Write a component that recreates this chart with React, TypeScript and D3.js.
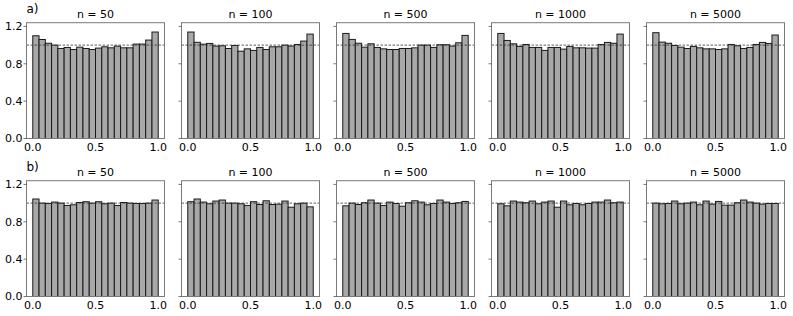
import React, { useEffect, useRef } from "react";
import * as d3 from "d3";

// sample sizes shown as panel titles
const sizes = ["50", "100", "500", "1000", "5000"];
const rowLabels = ["a)", "b)"];
const yTicks = [0.0, 0.4, 0.8, 1.2];
const xTicks = [0.0, 0.5, 1.0];
const binWidth = 0.05;

// row a) normalised histogram heights, 20 bins over [0, 1]
const a50 = [1.10, 1.06, 1.02, 1.0, 0.964, 0.975, 0.953, 0.978, 0.964, 0.953, 0.968, 0.982, 0.971, 0.989, 0.971, 0.971, 1.011, 1.011, 1.054, 1.14];
const a100 = [1.14, 1.03, 1.01, 1.018, 0.99, 0.993, 0.964, 0.996, 0.935, 0.96, 0.943, 0.975, 0.953, 0.982, 0.982, 1.0, 0.99, 1.007, 1.043, 1.118];
const a500 = [1.125, 1.061, 1.02, 0.978, 1.014, 0.975, 0.96, 0.953, 0.953, 0.964, 0.964, 0.971, 1.0, 1.0, 0.975, 1.004, 1.004, 0.99, 1.025, 1.104];
const a1000 = [1.125, 1.05, 1.014, 0.986, 1.007, 0.975, 0.975, 0.943, 0.975, 0.975, 0.957, 0.986, 0.971, 0.971, 0.968, 0.968, 1.007, 1.029, 1.02, 1.118];
const a5000 = [1.133, 1.032, 1.02, 0.996, 0.978, 0.964, 0.986, 0.971, 0.96, 0.96, 0.953, 0.96, 1.007, 0.993, 0.964, 0.975, 1.007, 1.029, 1.018, 1.108];

// row b)
const b50 = [1.044, 1.0, 0.996, 1.011, 1.0, 0.975, 0.982, 1.007, 1.015, 1.0, 1.015, 0.993, 1.0, 0.975, 1.007, 1.0, 0.996, 0.996, 1.0, 1.033];
const b100 = [1.015, 1.044, 1.011, 0.993, 1.022, 1.033, 1.0, 1.0, 0.993, 0.975, 1.015, 0.985, 1.025, 0.985, 0.989, 1.022, 0.956, 0.993, 1.0, 0.96];
const b500 = [0.971, 1.0, 0.985, 1.004, 1.033, 1.0, 0.975, 1.011, 0.996, 0.967, 1.004, 1.025, 1.011, 0.982, 0.996, 1.033, 1.011, 0.996, 1.004, 1.018];
const b1000 = [0.993, 0.971, 1.022, 1.011, 1.004, 1.022, 0.993, 1.011, 1.022, 0.956, 1.022, 0.982, 0.996, 0.982, 0.996, 1.011, 1.011, 1.033, 1.004, 1.011];
const b5000 = [1.0, 0.993, 0.996, 1.022, 0.993, 1.0, 1.011, 0.982, 1.022, 0.989, 1.018, 0.978, 0.978, 1.004, 1.033, 1.011, 1.0, 0.989, 0.996, 0.996];

const rows = [
    [a50, a100, a500, a1000, a5000],
    [b50, b100, b500, b1000, b5000]
];

const width = 793;
const height = 316;
const panelLeft = 26.5;
const panelStep = 155;
const panelW = 138;
const rowTops = [22.7, 180.7];
const panelH = 115.8;
const font = "DejaVu Sans, sans-serif";

export default function App() {
    const ref = useRef<SVGSVGElement | null>(null);

    useEffect(() => {
        const svg = d3.select(ref.current);
        svg.selectAll("*").remove();

        const x = d3.scaleLinear().domain([-0.05, 1.05]).range([0, panelW]);
        const y = d3.scaleLinear().domain([0, 1.24]).range([panelH, 0]);

        rows.forEach((row, r) => {
            svg.append("text")
                .attr("x", panelLeft)
                .attr("y", rowTops[r] - 9.5)
                .attr("font-family", font)
                .attr("font-size", 12)
                .attr("fill", "#000")
                .text(rowLabels[r]);

            row.forEach((values, c) => {
                const g = svg.append("g")
                    .attr("transform", "translate(" + (panelLeft + c * panelStep) + "," + rowTops[r] + ")");

                g.selectAll("rect.bar")
                    .data(values)
                    .enter()
                    .append("rect")
                    .attr("class", "bar")
                    .attr("x", (d, i) => x(i * binWidth))
                    .attr("width", x(binWidth) - x(0))
                    .attr("y", d => y(d))
                    .attr("height", d => y(0) - y(d))
                    .attr("fill", "#a8a8a8")
                    .attr("stroke", "#1a1a1a")
                    .attr("stroke-width", 1);

                g.append("line")
                    .attr("x1", 0)
                    .attr("x2", panelW)
                    .attr("y1", y(1))
                    .attr("y2", y(1))
                    .attr("stroke", "#333")
                    .attr("stroke-width", 0.8)
                    .attr("stroke-dasharray", "2.5,1.5");

                g.append("rect")
                    .attr("x", 0)
                    .attr("y", 0)
                    .attr("width", panelW)
                    .attr("height", panelH)
                    .attr("fill", "none")
                    .attr("stroke", "#7a7a7a")
                    .attr("stroke-width", 1);

                g.append("text")
                    .attr("x", panelW / 2)
                    .attr("y", -4.5)
                    .attr("text-anchor", "middle")
                    .attr("font-family", font)
                    .attr("font-size", 11)
                    .text("n = " + sizes[c]);

                // y ticks (labels only on the first column)
                yTicks.forEach(t => {
                    g.append("line")
                        .attr("x1", -3)
                        .attr("x2", 0)
                        .attr("y1", y(t))
                        .attr("y2", y(t))
                        .attr("stroke", "#555")
                        .attr("stroke-width", 0.8);
                    if (c === 0) {
                        g.append("text")
                            .attr("x", -4)
                            .attr("y", y(t))
                            .attr("dy", "0.36em")
                            .attr("text-anchor", "end")
                            .attr("font-family", font)
                            .attr("font-size", 11)
                            .text(d3.format(".1f")(t));
                    }
                });

                xTicks.forEach(t => {
                    g.append("text")
                        .attr("x", x(t))
                        .attr("y", panelH + 12.3)
                        .attr("text-anchor", "middle")
                        .attr("font-family", font)
                        .attr("font-size", 11)
                        .text(d3.format(".1f")(t));
                });
            });
        });
    }, []);

    return (
        <div style={{ position: "absolute", left: 0, top: 0, background: "#fff" }}>
            <svg ref={ref} width={width} height={height} style={{ display: "block" }}></svg>
        </div>
    );
}
